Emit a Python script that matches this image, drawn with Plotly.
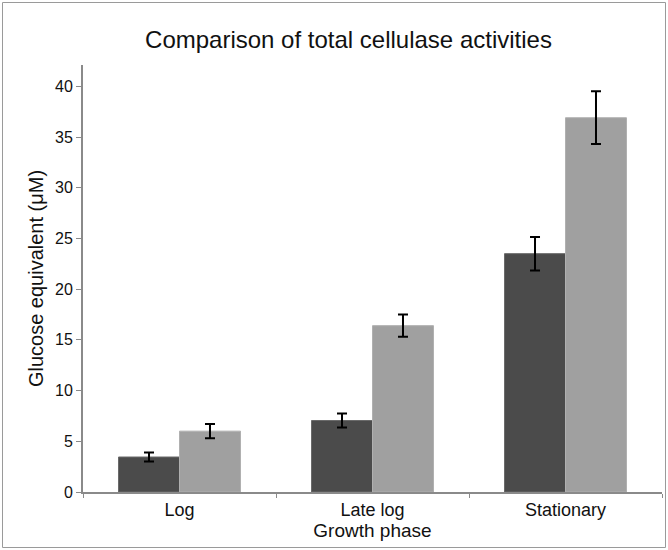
import plotly.graph_objects as go

categories = ["Log", "Late log", "Stationary"]
series_a = [3.45, 7.05, 23.5]
series_a_err = [0.45, 0.7, 1.65]
series_b = [6.0, 16.4, 36.9]
series_b_err = [0.7, 1.1, 2.6]
y_ticks = [0, 5, 10, 15, 20, 25, 30, 35, 40]

W, H = 668, 550
L, R, T, B = 83, 6, 65, 58
pw, ph = W - L - R, H - T - B

fig = go.Figure()
fig.add_trace(go.Bar(
    x=categories, y=series_a, name="A",
    marker=dict(color="#4b4b4b", line=dict(color="#6a6a6a", width=1)),
    error_y=dict(type="data", array=series_a_err, color="black", thickness=2, width=5),
))
fig.add_trace(go.Bar(
    x=categories, y=series_b, name="B",
    marker=dict(color="#a0a0a0", line=dict(color="#b0b0b0", width=1)),
    error_y=dict(type="data", array=series_b_err, color="black", thickness=2, width=5),
))

def px(x):
    return (x - L) / pw

def py(y):
    return (H - B - y) / ph

fig.add_shape(type="rect", xref="paper", yref="paper",
              x0=px(2.5), x1=px(665.5), y0=py(547.5), y1=py(2.5),
              line=dict(color="#9a9a9a", width=1))

fig.update_layout(
    width=W, height=H,
    margin=dict(l=L, r=R, t=T, b=B),
    paper_bgcolor="white", plot_bgcolor="white",
    showlegend=False,
    barmode="group", bargap=0.368, bargroupgap=0,
    font=dict(family="Liberation Sans, Arial, sans-serif", color="#111111"),
    title=dict(text="Comparison of total cellulase activities", x=(348.5) / W, xanchor="center",
               y=1 - 40 / H, yanchor="middle", font=dict(size=24)),
    xaxis=dict(showline=True, linecolor="#8a8a8a", linewidth=2,
               ticks="outside", ticklen=4, tickcolor="#8a8a8a", tickson="boundaries",
               tickfont=dict(size=18),
               title=dict(text="Growth phase", font=dict(size=19), standoff=2)),
    yaxis=dict(range=[0, 42.1], tickvals=y_ticks, showline=True, linecolor="#8a8a8a",
               linewidth=2, ticks="outside", ticklen=5, tickcolor="#8a8a8a",
               showgrid=False, zeroline=False, tickfont=dict(size=16),
               title=dict(text="Glucose equivalent (μM)", font=dict(size=20), standoff=6)),
)

fig.write_html("out.html", config={"displayModeBar": False},
               post_script="document.body.style.margin='0';document.body.style.padding='0';")
